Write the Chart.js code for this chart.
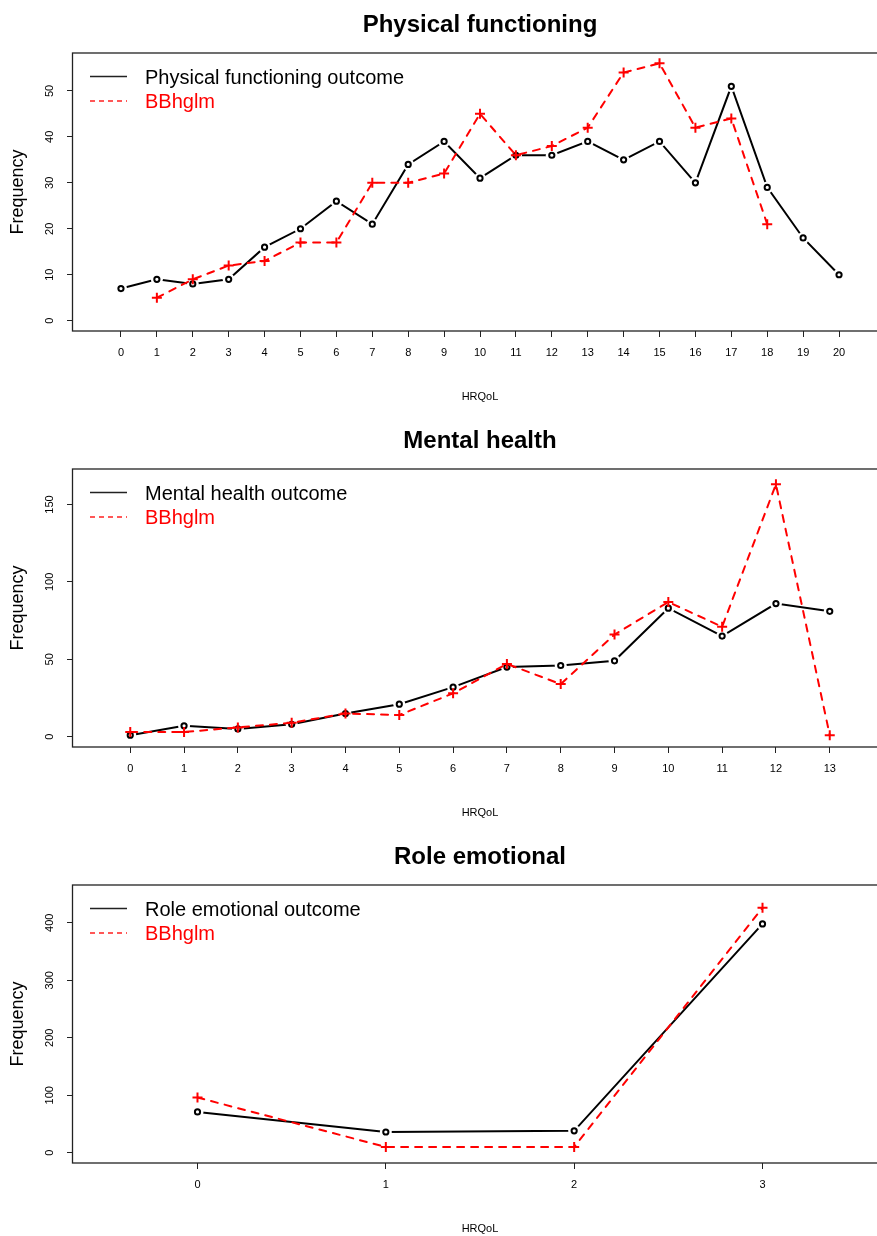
<!DOCTYPE html>
<html>
<head>
<meta charset="utf-8">
<title>HRQoL frequency distributions</title>
<script src="https://cdn.jsdelivr.net/npm/chart.js@4.4.1/dist/chart.umd.min.js"></script>
<style>
  html, body { margin: 0; padding: 0; background: #fff; overflow: hidden; width: 877px; height: 1236px; }
  .panel { position: absolute; left: 0; width: 900px; height: 416px; }
  canvas { display: block; }
</style>
</head>
<body>
<div class="panel" style="top:0px"><canvas id="pf" width="900" height="416"></canvas></div>
<div class="panel" style="top:416px"><canvas id="mh" width="900" height="416"></canvas></div>
<div class="panel" style="top:832px"><canvas id="re" width="900" height="416"></canvas></div>

<script>
// ---- Physical functioning ----
const pfScores  = [0, 1, 2, 3, 4, 5, 6, 7, 8, 9, 10, 11, 12, 13, 14, 15, 16, 17, 18, 19, 20];
const pfOutcome = [7, 9, 8, 9, 16, 20, 26, 21, 34, 39, 31, 36, 36, 39, 35, 39, 30, 51, 29, 18, 10];
const pfBBhglm  = [null, 5, 9, 12, 13, 17, 17, 30, 30, 32, 45, 36, 38, 42, 54, 56, 42, 44, 21, null, null];
const pfYTicks  = [0, 10, 20, 30, 40, 50];

// ---- Mental health ----
const mhScores  = [0, 1, 2, 3, 4, 5, 6, 7, 8, 9, 10, 11, 12, 13];
const mhOutcome = [1, 7, 5, 8, 15, 21, 32, 45, 46, 49, 83, 65, 86, 81];
const mhBBhglm  = [3, 3, 6, 9, 15, 14, 28, 47, 34, 66, 87, 71, 163, 1];
const mhYTicks  = [0, 50, 100, 150];

// ---- Role emotional ----
const reScores  = [0, 1, 2, 3];
const reOutcome = [71, 36, 38, 398];
const reBBhglm  = [96, 10, 10, 426];
const reYTicks  = [0, 100, 200, 300, 400];

const FONT = '"Liberation Sans", Arial, Helvetica, sans-serif';
Chart.defaults.font.family = FONT;
Chart.defaults.color = '#000';

// Box around the plot region, rotated y tick labels and the legend
const framePlugin = {
  id: 'frame',
  afterDraw(chart, args, opts) {
    const ctx = chart.ctx;
    const ca = chart.chartArea;
    ctx.save();

    // plot box
    ctx.strokeStyle = '#222';
    ctx.lineWidth = 1.3;
    ctx.strokeRect(ca.left - 0.5, ca.top, ca.right - ca.left + 0.5, ca.bottom - ca.top);

    // y tick labels, reading bottom to top
    const ys = chart.scales.y;
    ctx.fillStyle = '#000';
    ctx.font = '11px ' + FONT;
    ctx.textAlign = 'center';
    ctx.textBaseline = 'middle';
    ys.ticks.forEach(t => {
      const py = ys.getPixelForValue(t.value);
      ctx.save();
      ctx.translate(50, py);
      ctx.rotate(-Math.PI / 2);
      ctx.fillText(String(t.value), 0, 0);
      ctx.restore();
    });

    // legend
    const rows = [
      { text: opts.outcomeLabel, color: '#000', line: '#222', dash: [] },
      { text: 'BBhglm', color: '#ff0000', line: '#ff2020', dash: [5, 4] }
    ];
    ctx.font = '20px ' + FONT;
    ctx.textAlign = 'left';
    rows.forEach((r, i) => {
      const y = ca.top + 23.5 + i * 24.5;
      ctx.beginPath();
      ctx.setLineDash(r.dash);
      ctx.strokeStyle = r.line;
      ctx.lineWidth = 1.4;
      ctx.moveTo(ca.left + 17, y);
      ctx.lineTo(ca.left + 54, y);
      ctx.stroke();
      ctx.setLineDash([]);
      ctx.fillStyle = r.color;
      ctx.fillText(r.text, ca.left + 72, y + 1.5);
    });
    ctx.restore();
  }
};

function drawPanel(id, spec) {
  const pts = arr => spec.scores.map((s, i) => ({ x: s, y: arr[i] }));
  const tickGrid = {
    display: true, drawOnChartArea: false, drawTicks: true,
    tickLength: 6, color: '#222', lineWidth: 1
  };
  return new Chart(document.getElementById(id), {
    type: 'line',
    data: {
      datasets: [
        {
          label: 'BBhglm',
          data: pts(spec.fitted),
          borderColor: '#ff0000',
          borderWidth: 2,
          borderDash: [7, 7],
          borderCapStyle: 'round',
          pointStyle: 'cross',
          pointRadius: 5,
          pointBorderWidth: 2,
          pointBorderColor: '#ff0000',
          pointBackgroundColor: '#ff0000',
          spanGaps: false,
          tension: 0,
          order: 0
        },
        {
          label: spec.outcomeLabel + ' points',
          data: pts(spec.outcome),
          showLine: false,
          pointStyle: 'circle',
          pointRadius: 2.6,
          pointBorderWidth: 2,
          pointBorderColor: '#000',
          pointBackgroundColor: '#fff',
          order: 1
        },
        {
          // white halo so the solid line stops short of each circle
          label: 'halo',
          data: pts(spec.outcome),
          showLine: false,
          pointStyle: 'circle',
          pointRadius: 6,
          pointBorderWidth: 0,
          pointBorderColor: '#fff',
          pointBackgroundColor: '#fff',
          order: 2
        },
        {
          label: spec.outcomeLabel,
          data: pts(spec.outcome),
          borderColor: '#000',
          borderWidth: 2,
          pointRadius: 0,
          tension: 0,
          order: 3
        }
      ]
    },
    options: {
      responsive: false,
      animation: false,
      devicePixelRatio: 1,
      events: [],
      layout: { padding: { left: 0, right: 13, top: 0, bottom: 0 } },
      plugins: {
        legend: { display: false },
        tooltip: { enabled: false },
        title: {
          display: true,
          text: spec.title,
          fullSize: false,
          color: '#000',
          font: { family: FONT, size: 24, weight: 'bold' },
          padding: { top: 11, bottom: 13.2 }
        },
        frame: { outcomeLabel: spec.outcomeLabel }
      },
      scales: {
        x: {
          type: 'linear',
          min: spec.xMin,
          max: spec.xMax,
          afterBuildTicks: s => { s.ticks = spec.scores.map(v => ({ value: v })); },
          afterFit: s => { s.height = 85; },
          grid: tickGrid,
          border: { display: false },
          ticks: {
            autoSkip: false, minRotation: 0, maxRotation: 0, padding: 9.4,
            color: '#000', font: { family: FONT, size: 11 },
            callback: v => String(v)
          },
          title: {
            display: true, text: 'HRQoL', color: '#000',
            font: { family: FONT, size: 11 },
            padding: { top: 0, bottom: 12.4 }
          }
        },
        y: {
          type: 'linear',
          min: spec.yMin,
          max: spec.yMax,
          afterBuildTicks: s => { s.ticks = spec.yTicks.map(v => ({ value: v })); },
          afterFit: s => { s.width = 73; },
          grid: tickGrid,
          border: { display: false },
          ticks: { display: false },
          title: {
            display: true, text: 'Frequency', color: '#000',
            font: { family: FONT, size: 18 },
            padding: { top: 7.7, bottom: 0 }
          }
        }
      }
    },
    plugins: [framePlugin]
  });
}

drawPanel('pf', {
  title: 'Physical functioning', outcomeLabel: 'Physical functioning outcome',
  scores: pfScores, outcome: pfOutcome, fitted: pfBBhglm, yTicks: pfYTicks,
  xMin: -1.336, xMax: 21.336, yMin: -2.24, yMax: 58.24
});
drawPanel('mh', {
  title: 'Mental health', outcomeLabel: 'Mental health outcome',
  scores: mhScores, outcome: mhOutcome, fitted: mhBBhglm, yTicks: mhYTicks,
  xMin: -1.064, xMax: 14.064, yMin: -6.65, yMax: 172.9
});
drawPanel('re', {
  title: 'Role emotional', outcomeLabel: 'Role emotional outcome',
  scores: reScores, outcome: reOutcome, fitted: reBBhglm, yTicks: reYTicks,
  xMin: -0.661, xMax: 3.661, yMin: -17.9, yMax: 465.7
});
</script>
</body>
</html>
